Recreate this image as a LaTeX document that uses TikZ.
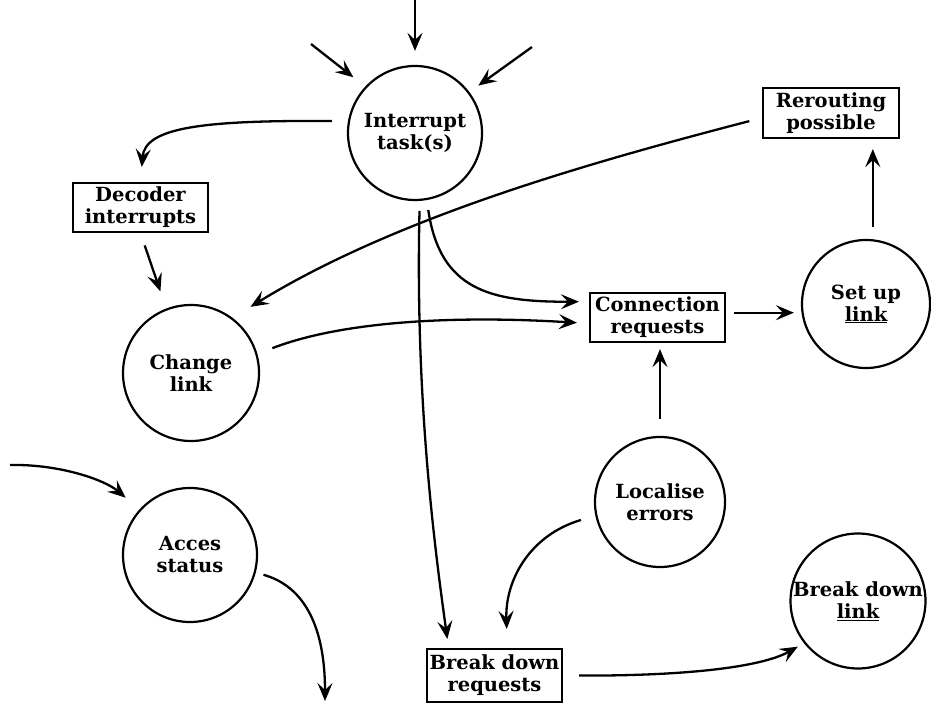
\documentclass[tikz,border=0pt]{standalone}
\usepackage{fontspec}
\setmainfont{DejaVu Serif}
\usetikzlibrary{arrows.meta}
\begin{document}
\begin{tikzpicture}[x=1pt,y=-1pt,
  every node/.style={font=\bfseries\fontsize{19.5}{22}\selectfont, align=center, inner sep=0pt},
  proc/.style={draw, circle, line width=2.2pt},
  store/.style={draw, rectangle, line width=2.2pt, minimum width=135pt, minimum height=49pt},
  arr/.style={line width=2.3pt, -{Stealth[length=18pt,width=15pt,inset=7pt]}}]
\useasboundingbox (0,0) rectangle (931,703);

% processes
\node[proc, minimum size=134pt] (int) at (415,133) {Interrupt\\task(s)};
\node[proc, minimum size=136pt] (chg) at (191,373) {Change\\link};
\node[proc, minimum size=128pt] (set) at (866,304) {Set up\\\underline{link}};
\node[proc, minimum size=130pt] (loc) at (660,502) {Localise\\errors};
\node[proc, minimum size=134pt] (acc) at (190,555) {Acces\\status};
\node[proc, minimum size=134pt] (bdl) at (858,601) {Break down\\\underline{link}};

% data stores
\node[store] (dec) at (140.5,207.5) {Decoder\\interrupts};
\node[store, minimum width=136pt, minimum height=50pt] (rer) at (831,113) {Rerouting\\possible};
\node[store] (con) at (657.5,317.5) {Connection\\requests};
\node[store, minimum height=53pt] (bdr) at (494.5,675.5) {Break down\\requests};

% free ends
\coordinate (top) at (415,0);
\coordinate (tl) at (311,44);
\coordinate (tr) at (532,47);
\coordinate (lin) at (10,465);
\coordinate (lout) at (325,701);

% incoming interrupts
\draw[arr, shorten >=14pt] (top) -- (int.north);
\draw[arr, shorten >=15pt] (tl) -- (int.137);
\draw[arr, shorten >=11pt] (tr) -- (int.37);

% flows
\draw[arr, shorten <=16pt, shorten >=15pt] (int.170) .. controls (200,120) and (145,128) .. (dec.north);
\draw[arr, shorten <=13pt, shorten >=18pt] (dec.south) -- (chg.111);
\draw[arr, shorten <=13pt, shorten >=21pt] (rer.184) .. controls (600,160) and (400,215) .. (chg.53);
\draw[arr, shorten <=10pt, shorten >=10pt] (int.280) .. controls (440,290) and (490,302) .. (con.167);
\draw[arr, shorten <=16pt, shorten >=12pt] (chg.16) .. controls (340,322) and (450,315) .. (con.185);
\draw[arr, shorten <=17pt, shorten >=6pt] (loc.north) -- (loc.north |- con.south);
\draw[arr, shorten <=8pt, shorten >=7pt] (con.4) -- (con.4 -| set.west);
\draw[arr, shorten <=12pt, shorten >=10pt] (set.84) -- (set.84 |- rer.south);
\draw[arr, shorten <=10pt, shorten >=9pt] (int.274) .. controls (415,400) and (435,550) .. (bdr.149);
\draw[arr, shorten <=15pt, shorten >=19pt] (loc.192) .. controls (530,535) and (505,580) .. (bdr.65);
\draw[arr, shorten <=16pt, shorten >=7pt] (bdr.east) .. controls (680,676) and (760,668) .. (bdl.218);
\draw[arr, shorten >=18pt] (lin) .. controls (60,464) and (105,480) .. (acc.138);
\draw[arr, shorten <=8pt] (acc.-15) .. controls (300,585) and (325,620) .. (lout);
\end{tikzpicture}
\end{document}
